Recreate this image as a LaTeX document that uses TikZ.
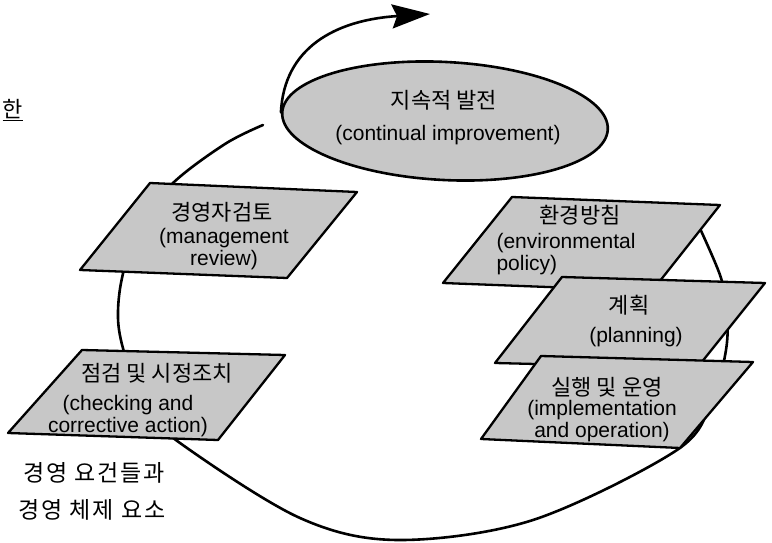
\documentclass[tikz,border=0pt]{standalone}
\usepackage{fontspec}
\setmainfont{Liberation Sans}
\newfontfamily\kr{Noto Sans CJK KR}
\newfontfamily\krwide[LetterSpace=8]{Noto Sans CJK KR}
\usetikzlibrary{shapes.geometric,arrows.meta}

\begin{document}
\begin{tikzpicture}[x=1pt, y=-1pt,
	panel/.style={line width=2.3pt, draw=black, fill=black!22, line join=round},
	loopline/.style={line width=2.6pt, line cap=round},
	kotext/.style={font=\kr\fontsize{22}{24}\selectfont, inner sep=0pt},
	entext/.style={font=\fontsize{21}{22}\selectfont, align=center, inner sep=0pt},
	sidetext/.style={font=\krwide\fontsize{23}{24}\selectfont, inner sep=0pt}]
	\useasboundingbox (0,0) rectangle (772,543);
	% Kreislauf hinter den Feldern
	\coordinate (loopstart) at (263,125);
	\coordinate (loopend) at (697,222);
	\draw[loopline] plot[smooth, tension=0.55] coordinates {(loopstart) (225,144)
	(173,183) (138,228) (122,278) (118,318) (124,352) (142,405) (180,443)
	(300,518) (398,540) (533,520) (677,450) (712,400) (726,350) (727,310)
	(720,275) (loopend)};
	% Ellipse oben
	\node[draw, line width=2.6pt, fill=black!22, ellipse, minimum width=326pt,
	minimum height=118pt, rotate=-3] (improve) at (445,121) {};
	\node[kotext] (improve-ko) at (444,100) {지속적 발전};
	\node[entext] (improve-en) at (448,135) {(continual improvement)};
	\coordinate (tip) at (430,14);
	\draw[loopline, -{Stealth[length=38pt, width=24pt, inset=5pt]}] (improve.west)
	.. controls (284,48) and (335,20) .. (tip);
	% Felder links
	\filldraw[panel] (150,183) -- (357,192) -- (287,278) -- (80,270) -- cycle;
	\node[kotext] (review) at (222,212) {경영자검토};
	\node[entext] (review-en) at (224,249) {(management\\review)};
	\filldraw[panel] (82,350) -- (285,355) -- (218,440) -- (8,433) -- cycle;
	\node[kotext] (check) at (157,373) {점검 및 시정조치};
	\node[entext] (check-en) at (128,416) {(checking and\\corrective action)};
	% Felder rechts
	\filldraw[panel] (512,197) -- (720,205) -- (652,291) -- (443,283) -- cycle;
	\node[kotext] (policy) at (580,215) {환경방침};
	\node[entext, align=left] (policy-en) at (566,254) {(environmental\\policy)};
	\filldraw[panel] (562,277) -- (765,283) -- (697,368) -- (495,363) -- cycle;
	\node[kotext] (plan) at (629,305) {계획};
	\node[entext] (plan-en) at (636,337) {(planning)};
	\filldraw[panel] (541,356) -- (753,362) -- (680,448) -- (481,439) -- cycle;
	\node[kotext] (implement) at (607,387) {실행 및 운영};
	\node[entext] (implement-en) at (602,421) {(implementation\\and operation)};
	% Text am Rand
	\node[kotext, anchor=east] (cut) at (23,110) {\underline{한}};
	\node[sidetext] (req-a) at (94,473) {경영 요건들과};
	\node[sidetext] (req-b) at (92,510) {경영 체제 요소};
\end{tikzpicture}
\end{document}
